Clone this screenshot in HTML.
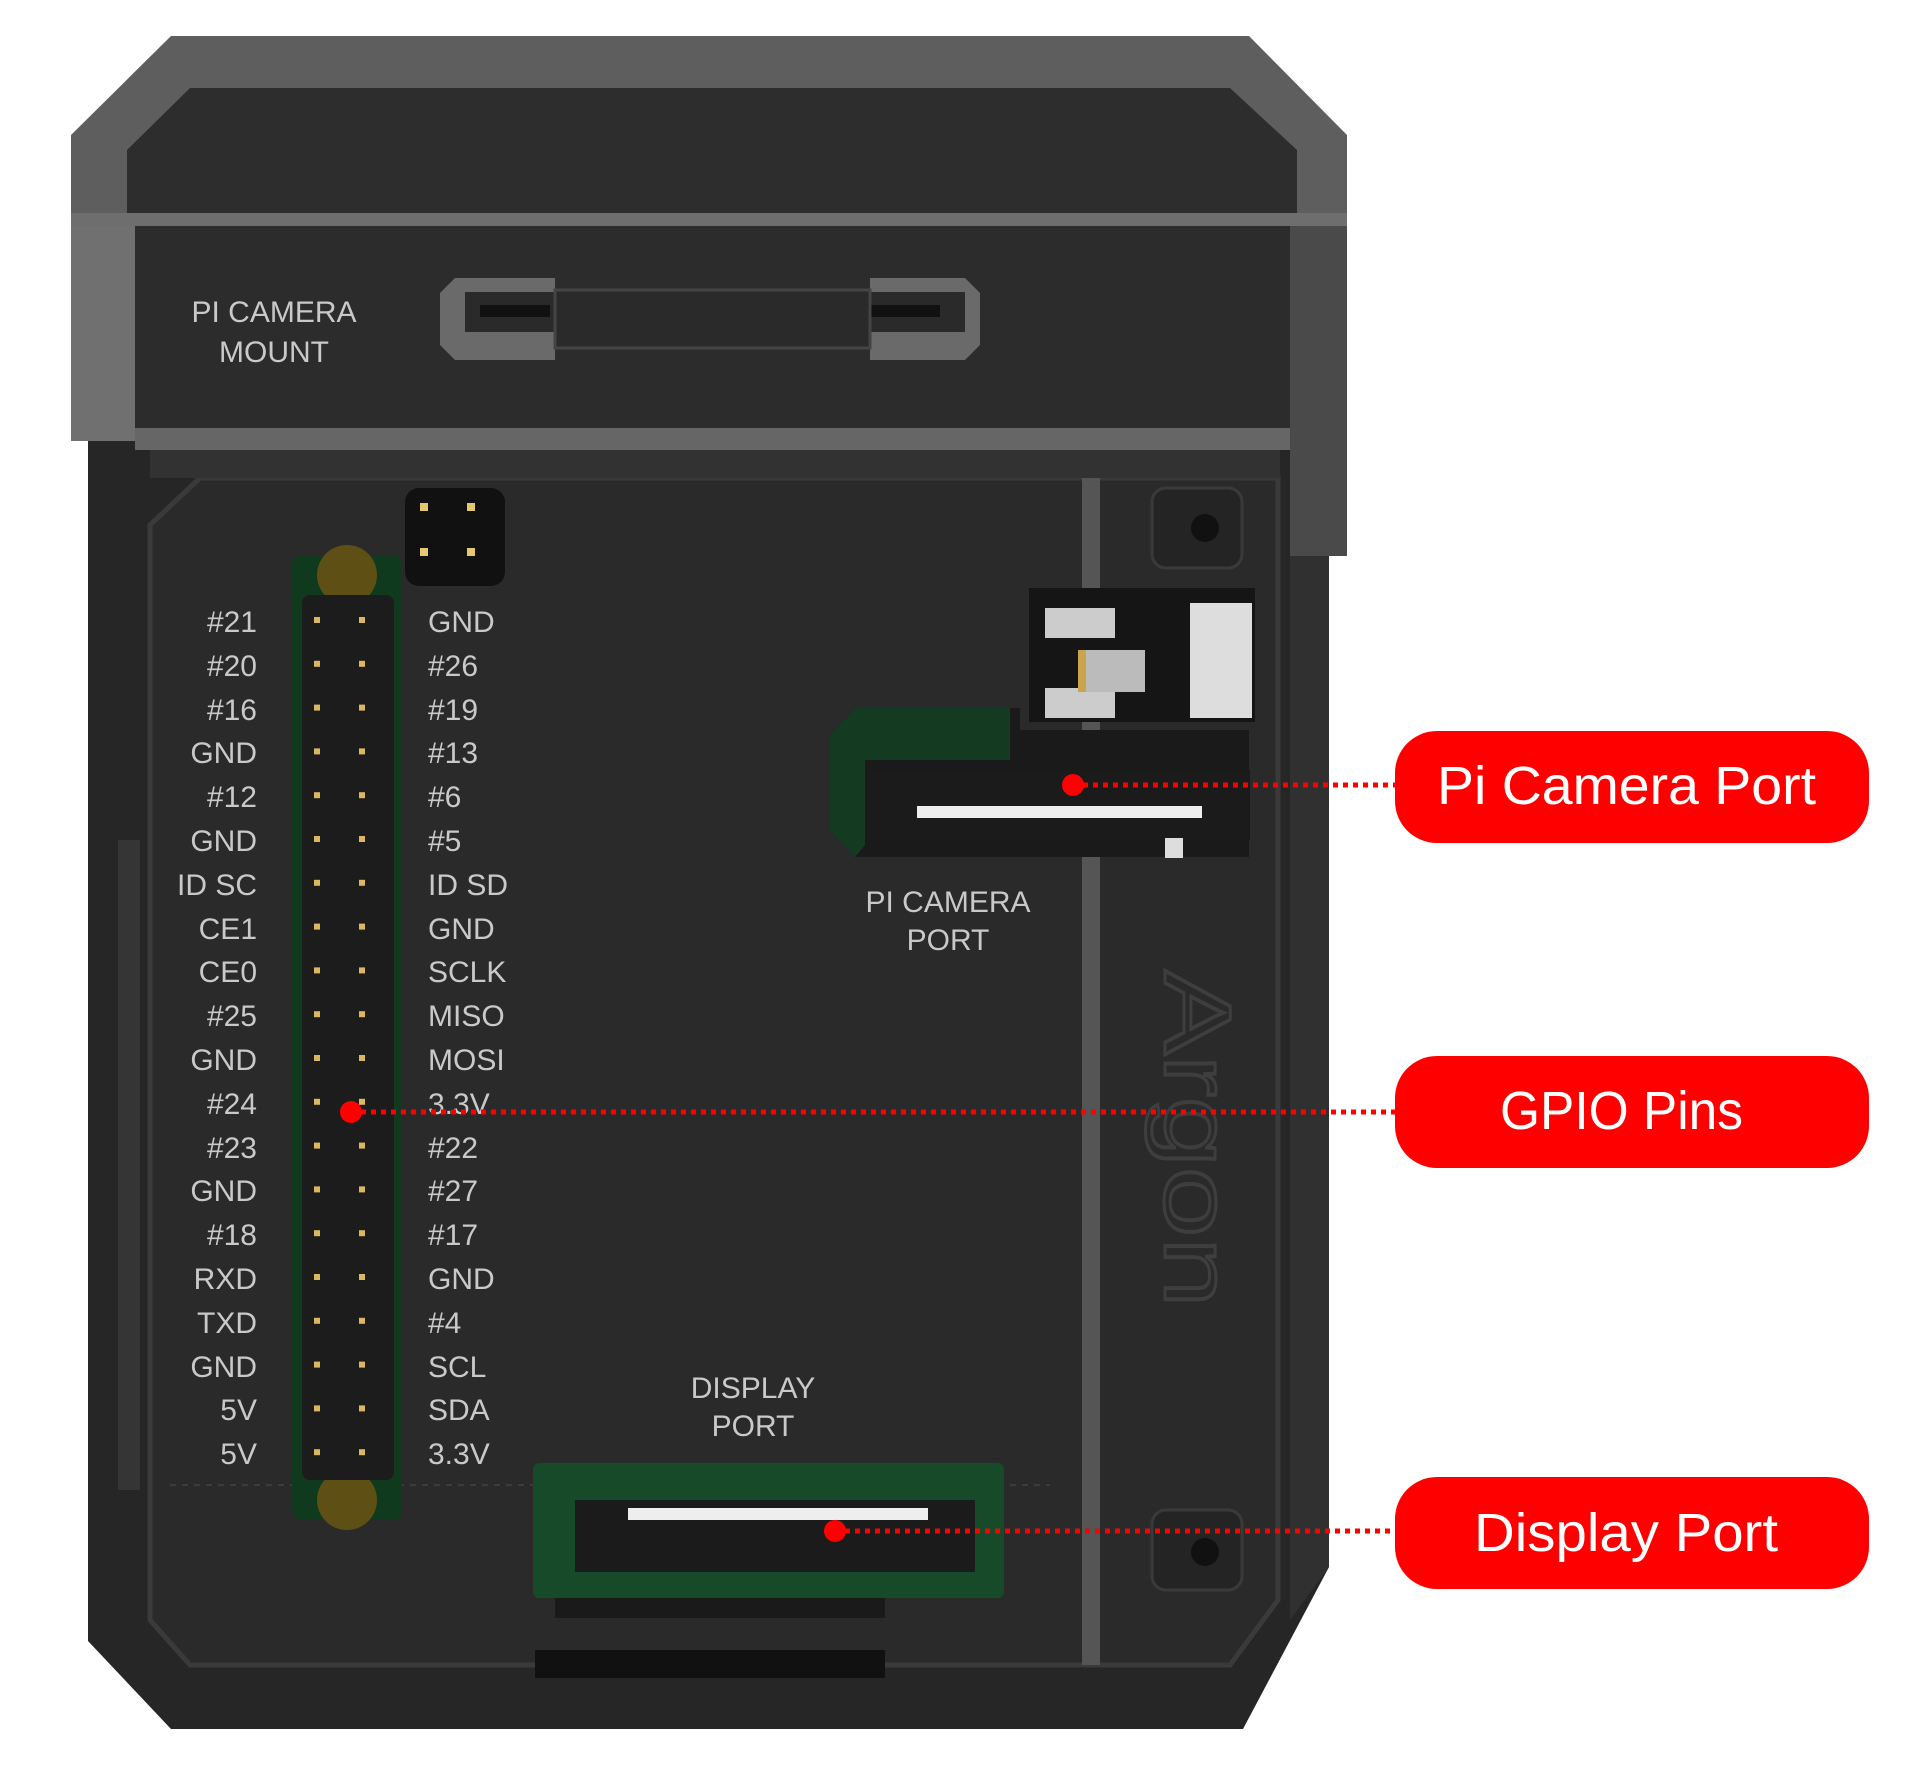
<!DOCTYPE html>
<html><head><meta charset="utf-8"><style>
html,body{margin:0;padding:0;background:#fff;}
svg{display:block;}
.lb{font-family:"Liberation Sans",sans-serif;font-size:30px;fill:#c9c9c9;}
.cl{font-family:"Liberation Sans",sans-serif;font-size:54px;fill:#fff;}
</style></head><body>
<svg width="1920" height="1765" viewBox="0 0 1920 1765" xmlns="http://www.w3.org/2000/svg">
<!-- lower body -->
<path d="M88 440 L1329 440 L1329 1567 L1243 1729 L171 1729 L88 1641 Z" fill="#262626"/>
<path d="M1290 440 L1329 440 L1329 1567 L1290 1620 Z" fill="#303030"/>
<!-- inner tray outline -->
<path d="M150 525 L200 478 L1278 478 L1278 1600 L1230 1665 L190 1665 L150 1620 Z" fill="#2a2a2a" stroke="#3a3a3a" stroke-width="5"/>
<rect x="118" y="840" width="22" height="650" fill="#353535"/>
<rect x="1082" y="478" width="18" height="1187" fill="#555"/>
<line x1="170" y1="1485" x2="1050" y2="1485" stroke="#3c3c3c" stroke-width="2" stroke-dasharray="6 6"/>
<!-- right-side mount holes -->
<rect x="1152" y="488" width="90" height="80" rx="14" fill="#242424" stroke="#3a3a3a" stroke-width="3"/>
<circle cx="1205" cy="528" r="14" fill="#111"/>
<rect x="1152" y="1510" width="90" height="80" rx="14" fill="#242424" stroke="#3a3a3a" stroke-width="3"/>
<circle cx="1205" cy="1552" r="14" fill="#111"/>
<!-- Argon logo faint -->
<text x="1190" y="1139" transform="rotate(90 1190 1139)" font-family="Liberation Sans,sans-serif" font-size="95" fill="none" stroke="#3e3e3e" stroke-width="3" text-anchor="middle" dominant-baseline="middle" textLength="337" lengthAdjust="spacingAndGlyphs">Argon</text>
<!-- top cover -->
<path d="M171 36 L1249 36 L1347 135 L1347 226 L71 226 L71 135 Z" fill="#5e5e5e"/>
<path d="M190 88 L1230 88 L1297 150 L1297 213 L127 213 L127 150 Z" fill="#2d2d2d"/>
<rect x="71" y="213" width="1276" height="13" fill="#6e6e6e"/>
<rect x="71" y="226" width="64" height="215" fill="#707070"/>
<rect x="1290" y="226" width="57" height="330" fill="#4a4a4a"/>
<rect x="135" y="226" width="1155" height="202" fill="#2c2c2c"/>
<rect x="135" y="428" width="1155" height="22" fill="#666"/>
<rect x="150" y="450" width="1130" height="28" fill="#323232"/>
<text class="lb" x="274" y="322" text-anchor="middle" font-size="33" fill="#d0d0d0">PI CAMERA</text>
<text class="lb" x="274" y="362" text-anchor="middle" font-size="33" fill="#d0d0d0">MOUNT</text>
<!-- mount clip -->
<path d="M455 278 L555 278 L555 360 L455 360 L440 345 L440 293 Z" fill="#6a6a6a"/>
<rect x="465" y="292" width="90" height="40" fill="#2a2a2a"/>
<rect x="480" y="305" width="70" height="12" fill="#111"/>
<path d="M870 278 L965 278 L980 293 L980 345 L965 360 L870 360 Z" fill="#6a6a6a"/>
<rect x="860" y="292" width="105" height="40" fill="#2a2a2a"/>
<rect x="870" y="305" width="70" height="12" fill="#111"/>
<rect x="555" y="290" width="315" height="58" fill="#2a2a2a" stroke="#444" stroke-width="3"/>
<!-- GPIO header -->
<rect x="292" y="555" width="110" height="965" rx="10" fill="#0f3a1e"/>
<circle cx="347" cy="575" r="30" fill="#5e5014"/>
<circle cx="347" cy="1500" r="30" fill="#5e5014"/>
<rect x="302" y="595" width="92" height="885" rx="8" fill="#1c1c1c"/>
<rect x="405" y="488" width="100" height="98" rx="14" fill="#111"/>
<g fill="#e5c770">
<rect x="420" y="503" width="8" height="8"/><rect x="467" y="503" width="8" height="8"/>
<rect x="420" y="548" width="8" height="8"/><rect x="467" y="548" width="8" height="8"/>
</g>
<g fill="#d9b860" id="pins"></g>
<!-- camera port -->
<path d="M1029 588 L1255 588 L1255 722 L1029 722 Z" fill="#151515"/>
<rect x="1045" y="608" width="70" height="30" fill="#ccc"/>
<rect x="1045" y="688" width="70" height="30" fill="#ccc"/>
<rect x="1190" y="603" width="62" height="115" fill="#ddd"/>
<rect x="1085" y="650" width="60" height="42" fill="#bbb"/>
<rect x="1078" y="650" width="8" height="42" fill="#c9a44a"/>
<path d="M855 708 L1020 708 L1020 730 L1249 730 L1249 857 L855 857 L830 830 L830 735 Z" fill="#1a1a1a"/>
<path d="M855 708 L1010 708 L1010 760 L865 760 L865 845 L855 857 L830 830 L830 735 Z" fill="#153a22"/>
<rect x="865" y="770" width="385" height="70" fill="#1b1b1b"/>
<rect x="917" y="806" width="285" height="12" fill="#eee"/>
<rect x="1165" y="838" width="18" height="20" fill="#ddd"/>
<!-- display port -->
<rect x="533" y="1463" width="471" height="135" rx="6" fill="#174a28"/>
<rect x="575" y="1500" width="400" height="72" fill="#1b1b1b"/>
<rect x="628" y="1508" width="300" height="12" fill="#eee"/>
<rect x="555" y="1598" width="330" height="20" fill="#1a1a1a"/>
<rect x="535" y="1650" width="350" height="28" fill="#111"/>
<!-- labels -->
<g class="lb" text-anchor="end">
<text x="257" y="632">#21</text><text x="257" y="676">#20</text><text x="257" y="720">#16</text><text x="257" y="763">GND</text><text x="257" y="807">#12</text><text x="257" y="851">GND</text><text x="257" y="895">ID SC</text><text x="257" y="939">CE1</text><text x="257" y="982">CE0</text><text x="257" y="1026">#25</text><text x="257" y="1070">GND</text><text x="257" y="1114">#24</text><text x="257" y="1158">#23</text><text x="257" y="1201">GND</text><text x="257" y="1245">#18</text><text x="257" y="1289">RXD</text><text x="257" y="1333">TXD</text><text x="257" y="1377">GND</text><text x="257" y="1420">5V</text><text x="257" y="1464">5V</text>
</g>
<g class="lb">
<text x="428" y="632">GND</text><text x="428" y="676">#26</text><text x="428" y="720">#19</text><text x="428" y="763">#13</text><text x="428" y="807">#6</text><text x="428" y="851">#5</text><text x="428" y="895">ID SD</text><text x="428" y="939">GND</text><text x="428" y="982">SCLK</text><text x="428" y="1026">MISO</text><text x="428" y="1070">MOSI</text><text x="428" y="1114">3.3V</text><text x="428" y="1158">#22</text><text x="428" y="1201">#27</text><text x="428" y="1245">#17</text><text x="428" y="1289">GND</text><text x="428" y="1333">#4</text><text x="428" y="1377">SCL</text><text x="428" y="1420">SDA</text><text x="428" y="1464">3.3V</text>
</g>
<text class="lb" x="948" y="912" text-anchor="middle">PI CAMERA</text>
<text class="lb" x="948" y="950" text-anchor="middle">PORT</text>
<text class="lb" x="753" y="1398" text-anchor="middle">DISPLAY</text>
<text class="lb" x="753" y="1436" text-anchor="middle">PORT</text>
<!-- callouts -->
<g stroke="#f00" stroke-width="5" stroke-dasharray="5 5">
<line x1="1073" y1="785" x2="1396" y2="785"/>
<line x1="351" y1="1112" x2="1396" y2="1112"/>
<line x1="835" y1="1531" x2="1396" y2="1531"/>
</g>
<g fill="#f00">
<circle cx="1073" cy="785" r="11"/><circle cx="351" cy="1112" r="11"/><circle cx="835" cy="1531" r="11"/>
<rect x="1395" y="731" width="474" height="112" rx="42"/>
<rect x="1395" y="1056" width="474" height="112" rx="42"/>
<rect x="1395" y="1477" width="474" height="112" rx="42"/>
</g>
<text class="cl" x="1437" y="804" textLength="379" lengthAdjust="spacingAndGlyphs">Pi Camera Port</text>
<text class="cl" x="1500" y="1129" textLength="243" lengthAdjust="spacingAndGlyphs">GPIO Pins</text>
<text class="cl" x="1474" y="1551" textLength="304" lengthAdjust="spacingAndGlyphs">Display Port</text>
</svg>
<script>
var g=document.getElementById('pins');var s='';
for(var i=0;i<20;i++){var y=620+i*43.8;s+='<rect x="314" y="'+(y-3)+'" width="6" height="6"/><rect x="359" y="'+(y-3)+'" width="6" height="6"/>';}
g.innerHTML=s;
</script>
</body></html>
